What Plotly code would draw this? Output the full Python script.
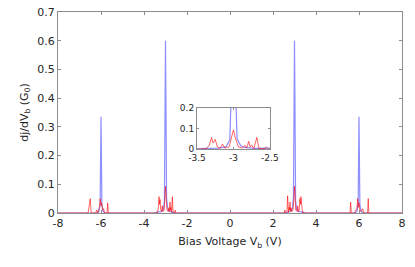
import plotly.graph_objects as go

# Blue series
blue_v = [-8.0, -6.2, -6.1, -6.04, -6.0, -5.96, -5.9, -5.8,
          -3.5, -3.4, -3.2, -3.1, -3.05, -3.035, -3.02, -3.0, -2.98, -2.965, -2.95, -2.9, -2.85, -2.7, -2.5,
          2.5, 2.7, 2.85, 2.9, 2.95, 2.965, 2.98, 3.0, 3.02, 3.035, 3.05, 3.1, 3.2, 3.4, 3.5,
          5.8, 5.9, 5.96, 6.0, 6.04, 6.1, 6.2, 8.0]
blue_g = [0.0, 0.0, 0.005, 0.03, 0.335, 0.03, 0.005, 0.0,
          0.0, 0.003, 0.005, 0.012, 0.045, 0.2, 0.4, 0.6, 0.4, 0.2, 0.05, 0.016, 0.008, 0.003, 0.0,
          0.0, 0.003, 0.008, 0.016, 0.05, 0.2, 0.4, 0.6, 0.4, 0.2, 0.045, 0.012, 0.005, 0.003, 0.0,
          0.0, 0.005, 0.03, 0.335, 0.03, 0.005, 0.0, 0.0]

# Red series
red_v = [-8.0, -6.6, -6.5, -6.46, -6.25, -6.2, -6.15, -6.08, -6.03, -6.0, -5.97, -5.93, -5.88, -5.84,
         -5.72, -5.69, -5.66, -5.5,
         -3.45, -3.4, -3.37, -3.33, -3.3, -3.28, -3.25, -3.22, -3.18, -3.15, -3.12, -3.06, -3.03, -3.0,
         -2.97, -2.93, -2.88, -2.84, -2.82, -2.79, -2.77, -2.75, -2.72, -2.68, -2.65, -2.58, -2.55, -2.52,
         2.52, 2.55, 2.58, 2.65, 2.68, 2.72, 2.75, 2.77, 2.79, 2.82, 2.84, 2.88, 2.93, 2.97, 3.0, 3.03,
         3.06, 3.12, 3.15, 3.18, 3.22, 3.25, 3.28, 3.3, 3.33, 3.37, 3.4, 3.45,
         5.5, 5.58, 5.61, 5.64, 5.8, 5.85, 5.9, 5.94, 5.97, 6.0, 6.04, 6.1, 6.17, 6.22, 6.4, 6.43, 6.46, 6.6, 8.0]
red_g = [0.0, 0.0, 0.05, 0.0, 0.0, 0.01, 0.0, 0.02, 0.05, 0.025, 0.035, 0.01, 0.015, 0.0,
         0.0, 0.035, 0.0, 0.0,
         0.0, 0.003, 0.002, 0.02, 0.057, 0.03, 0.047, 0.01, 0.005, 0.025, 0.005, 0.01, 0.05, 0.093,
         0.05, 0.01, 0.005, 0.018, 0.005, 0.038, 0.01, 0.02, 0.002, 0.057, 0.003, 0.002, 0.01, 0.0,
         0.0, 0.01, 0.002, 0.003, 0.06, 0.002, 0.02, 0.01, 0.038, 0.005, 0.018, 0.005, 0.01, 0.05, 0.093, 0.05,
         0.01, 0.005, 0.025, 0.005, 0.01, 0.05, 0.03, 0.057, 0.02, 0.002, 0.003, 0.0,
         0.0, 0.0, 0.038, 0.0, 0.0, 0.01, 0.012, 0.05, 0.02, 0.035, 0.01, 0.005, 0.015, 0.0, 0.0, 0.05, 0.0, 0.0, 0.0]

x_ticks = [-8, -6, -4, -2, 0, 2, 4, 6, 8]
y_ticks = [0, 0.1, 0.2, 0.3, 0.4, 0.5, 0.6, 0.7]
inset_x_ticks = [-3.5, -3, -2.5]
inset_y_ticks = [0, 0.1, 0.2]

BLUE = "rgba(50,50,255,0.55)"
RED = "rgba(255,0,0,0.6)"
AX = "#8c8c8c"
TXT = "#262626"
FONT = "DejaVu Sans"

fig = go.Figure()
for xa, ya in [("x", "y"), ("x2", "y2")]:
    fig.add_trace(go.Scatter(x=blue_v, y=blue_g, mode="lines", line=dict(color=BLUE, width=1.2),
                             xaxis=xa, yaxis=ya, showlegend=False, cliponaxis=True, hoverinfo="skip"))
    fig.add_trace(go.Scatter(x=red_v, y=red_g, mode="lines", line=dict(color=RED, width=1.0),
                             xaxis=xa, yaxis=ya, showlegend=False, cliponaxis=True, hoverinfo="skip"))

common = dict(showgrid=False, zeroline=False, showline=True, linecolor=AX, linewidth=1,
              mirror="ticks", ticks="inside", ticklen=3, tickcolor=AX, automargin=False,
              tickfont=dict(family=FONT, size=11, color=TXT))

fig.update_layout(
    width=415, height=267, autosize=False,
    margin=dict(l=58, r=13, t=12, b=54, pad=0),
    paper_bgcolor="white", plot_bgcolor="white",
    font=dict(family=FONT, size=11, color=TXT),
    xaxis=dict(range=[-8, 8], tickvals=x_ticks, ticktext=[str(v) for v in x_ticks],
               title=dict(text="Bias Voltage V<sub>b</sub> (V)", font=dict(family=FONT, size=11, color=TXT),
                          standoff=8),
               **common),
    yaxis=dict(range=[0, 0.7], tickvals=y_ticks, ticktext=["0"] + [f"{v:.1f}" for v in y_ticks[1:]],
               title=dict(text="dj/dV<sub>b</sub> (G<sub>0</sub>)", font=dict(family=FONT, size=11, color=TXT),
                          standoff=6),
               **common),
    xaxis2=dict(domain=[0.404, 0.616], anchor="y2", range=[-3.5, -2.5], tickvals=inset_x_ticks,
                ticktext=["-3.5", "-3", "-2.5"], automargin=False,
                showgrid=False, zeroline=False, showline=True, linecolor=AX, linewidth=1,
                mirror="ticks", ticks="inside", ticklen=2, tickcolor=AX,
                tickfont=dict(family=FONT, size=9, color=TXT)),
    yaxis2=dict(domain=[0.318, 0.522], anchor="x2", range=[0, 0.2], tickvals=inset_y_ticks,
                ticktext=["0", "0.1", "0.2"], automargin=False,
                showgrid=False, zeroline=False, showline=True, linecolor=AX, linewidth=1,
                mirror="ticks", ticks="inside", ticklen=2, tickcolor=AX,
                tickfont=dict(family=FONT, size=9, color=TXT)),
)

fig.write_html("out.html", config={"displayModeBar": False, "staticPlot": True},
               post_script="document.body.style.margin='0';document.body.style.overflow='hidden';")
